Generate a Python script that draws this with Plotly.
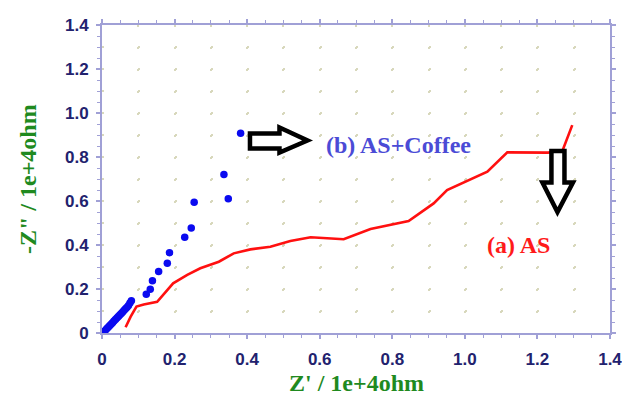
import plotly.graph_objects as go

# ---- data ----
as_coffee_x = [0.005, 0.009, 0.013, 0.017, 0.021, 0.025, 0.029, 0.033, 0.037, 0.041,
               0.045, 0.049, 0.053, 0.057, 0.061, 0.065, 0.069, 0.073, 0.077, 0.081,
               0.122, 0.133, 0.139, 0.156, 0.180, 0.186, 0.228, 0.246, 0.254, 0.348,
               0.336, 0.382]
as_coffee_y = [0.006, 0.012, 0.019, 0.026, 0.033, 0.040, 0.047, 0.054, 0.061, 0.068,
               0.075, 0.082, 0.089, 0.096, 0.103, 0.110, 0.117, 0.125, 0.136, 0.147,
               0.176, 0.199, 0.238, 0.279, 0.317, 0.365, 0.435, 0.477, 0.594, 0.610,
               0.721, 0.908]

as_x = [0.065, 0.079, 0.095, 0.115, 0.152, 0.196, 0.235, 0.271, 0.322, 0.363,
        0.409, 0.464, 0.519, 0.575, 0.666, 0.740, 0.845, 0.914, 0.951, 1.062,
        1.117, 1.227, 1.268, 1.296]
as_y = [0.026, 0.074, 0.120, 0.130, 0.142, 0.226, 0.264, 0.294, 0.324, 0.362,
        0.380, 0.392, 0.418, 0.435, 0.426, 0.473, 0.509, 0.589, 0.650, 0.733,
        0.821, 0.820, 0.824, 0.945]

tick_vals = [0, 0.2, 0.4, 0.6, 0.8, 1.0, 1.2, 1.4]
x_tick_text = ["0", "0.2", "0.4", "0.6", "0.8", "1.0", "1.2", "1.4"]
y_tick_text = ["0", "0.2", "0.4", "0.6", "0.8", "1.0", "1.2", "1.4"]

x_title = "Z' / 1e+4ohm"
y_title = '-Z" / 1e+4ohm'
label_b = "(b) AS+Coffee"
label_a = "(a) AS"

# ---- styles ----
AXIS_COLOR = "#a0a0d6"
TICK_FONT = dict(family="Liberation Sans, Arial, sans-serif", size=17,
                 color="#22226e", weight="bold")
SERIF = "Liberation Serif, Times New Roman, serif"
TITLE_FONT = dict(family=SERIF, size=24, color="#1f8a1f", weight="bold")
GRID_COLOR = "#d8d8bc"

fig = go.Figure()

# overlay axes only used to draw the dotted 0.1 grid
fig.add_trace(go.Scatter(x=[], y=[], xaxis="x2", yaxis="y2",
                         showlegend=False, hoverinfo="skip"))

fig.add_trace(go.Scatter(x=as_x, y=as_y, mode="lines",
                         line=dict(color="#ff1010", width=2.6),
                         showlegend=False))
fig.add_trace(go.Scatter(x=as_coffee_x, y=as_coffee_y, mode="markers",
                         marker=dict(color="#0a0af0", size=7.5),
                         showlegend=False))

axis_common = dict(
    range=[0, 1.4], showgrid=False, zeroline=False, automargin=False,
    showline=True, linecolor=AXIS_COLOR, linewidth=2, mirror="allticks",
    ticks="outside", ticklen=4, tickwidth=1.5, tickcolor=AXIS_COLOR,
    tickvals=tick_vals, tickfont=TICK_FONT, ticklabeloverflow="allow",
    minor=dict(dtick=0.05, ticks="outside", ticklen=3, tickwidth=1.2,
               tickcolor=AXIS_COLOR, showgrid=False),
)

fig.update_layout(
    width=622, height=401,
    margin=dict(l=102, r=12, t=25, b=68),
    paper_bgcolor="white", plot_bgcolor="white",
    xaxis=dict(**axis_common, ticktext=x_tick_text, ticklabelstandoff=6),
    yaxis=dict(**axis_common, ticktext=y_tick_text, ticklabelstandoff=4),
    xaxis2=dict(overlaying="x", range=[0, 1.4], dtick=0.1, tick0=0,
                showgrid=True, gridcolor=GRID_COLOR, gridwidth=2,
                griddash="2px,20px", showticklabels=False, ticks="",
                showline=False, zeroline=False, anchor="y2", automargin=False),
    yaxis2=dict(overlaying="y", range=[0, 1.4], dtick=0.1, tick0=0,
                showgrid=True, gridcolor=GRID_COLOR, gridwidth=2,
                griddash="2px,34.286px", showticklabels=False, ticks="",
                showline=False, zeroline=False, anchor="x2", automargin=False),
    annotations=[
        dict(text=x_title, xref="paper", yref="paper", x=0.5, y=-0.162,
             xanchor="center", yanchor="middle", showarrow=False, font=TITLE_FONT),
        dict(text=y_title, xref="paper", yref="paper", x=-0.1457, y=0.5,
             xanchor="center", yanchor="middle", textangle=-90, showarrow=False,
             font=TITLE_FONT),
        dict(text=label_b, xref="x", yref="y", x=0.817, y=0.8545,
             xanchor="center", yanchor="middle", showarrow=False,
             font=dict(family=SERIF, size=24, color="#4b4bd6", weight="bold")),
        dict(text=label_a, xref="x", yref="y", x=1.1475, y=0.40,
             xanchor="center", yanchor="middle", showarrow=False,
             font=dict(family=SERIF, size=24, color="#ff1a1a", weight="bold")),
    ],
    shapes=[
        # right-pointing hollow arrow
        dict(type="path", xref="x", yref="y", layer="above",
             path="M0.4078,0.9068 L0.4891,0.9068 L0.4891,0.934 L0.5663,0.875 "
                  "L0.4891,0.8205 L0.4891,0.8386 L0.4078,0.8386 Z",
             line=dict(color="black", width=4.5), fillcolor="white"),
        # down-pointing hollow arrow
        dict(type="path", xref="x", yref="y", layer="above",
             path="M1.2386,0.8273 L1.2745,0.8273 L1.2745,0.6841 L1.2979,0.6841 "
                  "L1.2552,0.55 L1.2138,0.6841 L1.2386,0.6841 Z",
             line=dict(color="black", width=4.5), fillcolor="white"),
    ],
)

fig.write_html("out.html",
               config={"displayModeBar": False},
               post_script="document.body.style.margin='0';"
                           "document.body.style.overflow='hidden';")
